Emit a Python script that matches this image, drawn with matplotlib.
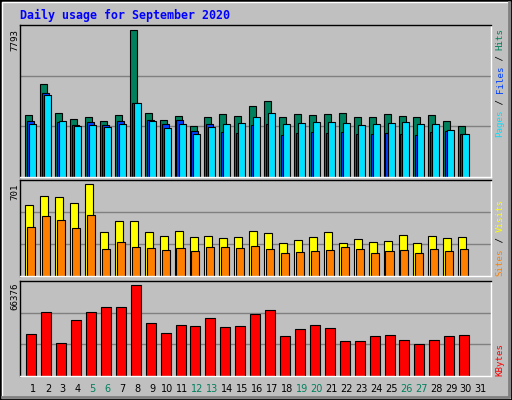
import matplotlib
matplotlib.use("Agg")
import matplotlib.pyplot as plt
from matplotlib.patches import Rectangle
import numpy as np

days = list(range(1, 32))
weekend = [5, 6, 12, 13, 19, 20, 26, 27]
hits = [3297, 4937, 3403, 3085, 3191, 2980, 3297, 7793, 3403, 3032, 3244, 2715, 3191, 3350, 3244,
        3773, 4037, 3191, 3350, 3297, 3350, 3403, 3191, 3191, 3350, 3244, 3191, 3297, 2980, 2715]
files = [2980, 4460, 2927, 2768, 2927, 2768, 2980, 3932, 3032, 2821, 3032, 2451, 2821, 2398, 2345,
         2768, 2821, 2239, 2345, 2398, 2345, 2398, 2292, 2292, 2345, 2292, 2239, 2398, 2451, 2292]
pages = [2821, 4355, 2980, 2715, 2768, 2662, 2821, 3932, 2980, 2609, 2821, 2292, 2662, 2821, 2874,
         3191, 3403, 2821, 2874, 2927, 2927, 2874, 2768, 2821, 2874, 2927, 2821, 2821, 2504, 2292]
visits = [541, 610, 602, 556, 701, 335, 419, 419, 335, 305, 343, 297, 305, 290, 297,
          343, 328, 251, 274, 297, 335, 251, 282, 259, 267, 312, 251, 305, 290, 297]
sites = [373, 457, 427, 366, 465, 206, 259, 221, 213, 198, 213, 190, 221, 221, 213,
         229, 206, 175, 183, 190, 198, 221, 206, 175, 190, 198, 175, 206, 190, 206]
kbytes = [30636, 46683, 24071, 40847, 46683, 50330, 50330, 66376, 38659, 31365, 37200, 36471, 42306,
          35741, 36471, 45224, 48142, 29177, 34283, 37200, 35012, 25530, 25530, 29177, 29906,
          26259, 23342, 26259, 29177, 29906]

BG = "#C0C0C0"
C_HITS, C_FILES, C_PAGES = "#00805C", "#0040FF", "#00E0FF"
C_VIS, C_SITES, C_KB = "#FFFF00", "#FF8000", "#FF0000"
MONO = "DejaVu Sans Mono"

W, H = 512, 400
fig = plt.figure(figsize=(W / 100, H / 100), dpi=100, facecolor=BG)

def px_axes(x0, y0, x1, y1):
    return fig.add_axes([x0 / W, 1 - y1 / H, (x1 - x0) / W, (y1 - y0) / H])

# frame bevel
fig.patches.append(Rectangle((0, 0), 1, 1, transform=fig.transFigure, fill=False, ec="black", lw=2))
fig.add_artist(plt.Line2D([2 / W, 2 / W, 1 - 3 / W], [3 / H, 1 - 2 / H, 1 - 2 / H], transform=fig.transFigure, color="white", lw=1))
fig.add_artist(plt.Line2D([2 / W, 1 - 3 / W, 1 - 3 / W], [3 / H, 3 / H, 1 - 2 / H], transform=fig.transFigure, color="#808080", lw=2))

xl = (0.129, 31.68)
x = np.arange(1, len(hits) + 1)

def style(ax, ylim):
    ax.set_facecolor(BG)
    ax.set_xlim(*xl)
    ax.set_ylim(0, ylim)
    ax.set_xticks([]); ax.set_yticks([])
    for y in (ylim / 3, 2 * ylim / 3):
        ax.axhline(y, color="#808080", lw=1, zorder=0)
    for s in ("left", "top"):
        ax.spines[s].set_color("black")
    for s in ("right", "bottom"):
        ax.spines[s].set_color("white")
    ax.spines[:].set_linewidth(1)

ax1 = px_axes(20, 25, 491, 177)
style(ax1, 7793 * 152 / 147)
ax1.bar(x - 0.516, hits, width=0.47, align="edge", color=C_HITS, ec="black", lw=0.8)
ax1.bar(x - 0.39, files, width=0.47, align="edge", color=C_FILES, ec="black", lw=0.8)
ax1.bar(x - 0.25, pages, width=0.47, align="edge", color=C_PAGES, ec="black", lw=0.8)

ax2 = px_axes(20, 180, 491, 276)
style(ax2, 701 * 96 / 92)
ax2.bar(x - 0.516, visits, width=0.54, align="edge", color=C_VIS, ec="black", lw=0.8)
ax2.bar(x - 0.39, sites, width=0.54, align="edge", color=C_SITES, ec="black", lw=0.8)

ax3 = px_axes(20, 281, 491, 376)
style(ax3, 66376 * 95 / 91)
ax3.bar(x - 0.45, kbytes, width=0.67, align="edge", color=C_KB, ec="black", lw=0.8)

FS = 6.6
def ftext(px, py, s, **kw):
    fig.text(px / W, 1 - py / H, s, family=MONO, **kw)

ftext(20, 15, "Daily usage for September 2020", color="#0000FF", fontsize=8.4, fontweight="bold", va="center", ha="left")

ftext(15, 29, str(max(hits)), rotation=90, fontsize=FS, ha="center", va="top")
ftext(15, 183, str(max(visits)), rotation=90, fontsize=FS, ha="center", va="top")
ftext(15, 283, str(max(kbytes)), rotation=90, fontsize=FS, ha="center", va="top")

def stacked(px, py_bottom, parts, cw=5.5):
    y = py_bottom
    for s, c in parts:
        ftext(px, y, s, rotation=90, fontsize=FS, color=c, ha="center", va="bottom")
        y -= cw * len(s)

stacked(500, 137, [("Pages", C_PAGES), (" / ", "black"), ("Files", C_FILES), (" / ", "black"), ("Hits", C_HITS)], 5.45)
stacked(500, 276, [("Sites", C_SITES), (" / ", "black"), ("Visits", C_VIS)])
stacked(500, 376, [("KBytes", C_KB)], 5.8)

for d in days:
    col = C_HITS if d in weekend else "black"
    ax3.text(d, -0.0, str(d), transform=ax3.get_xaxis_transform(), ha="center", va="top",
             fontsize=FS + 0.4, family="DejaVu Sans", color=col)
    # nudge down
for t in ax3.texts:
    t.set_y(-0.08)

fig.savefig("out.png", dpi=100, facecolor=BG)
